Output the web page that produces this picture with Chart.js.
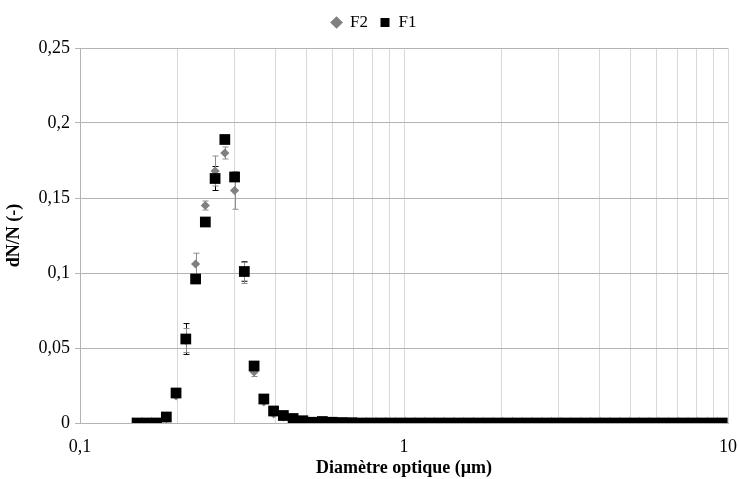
<!DOCTYPE html>
<html>
<head>
<meta charset="utf-8">
<script src="https://cdn.jsdelivr.net/npm/chart.js@4"></script>
<style>
  html, body { margin: 0; padding: 0; background: #fff; }
  #wrap { width: 739px; height: 479px; }
</style>
</head>
<body>
<div id="wrap"><canvas id="myChart"></canvas></div>
<script>
  // diameters (µm), one per channel
  const diam = [0.150, 0.1608, 0.1723, 0.1847, 0.1979, 0.2121, 0.2274, 0.2437, 0.2612, 0.2799,
    0.300, 0.3215, 0.3446, 0.3693, 0.3958, 0.4243, 0.4547, 0.4873, 0.5223, 0.5598,
    0.600, 0.643, 0.689, 0.739, 0.792, 0.849, 0.909, 0.975, 1.045, 1.120,
    1.200, 1.286, 1.378, 1.477, 1.583, 1.697, 1.819, 1.949, 2.089, 2.239,
    2.400, 2.572, 2.757, 2.955, 3.167, 3.394, 3.638, 3.899, 4.179, 4.479,
    4.800, 5.145, 5.514, 5.910, 6.334, 6.789, 7.276, 7.798, 8.358, 8.958, 9.600];

  const f1 = [0, 0, 0, 0.004, 0.020, 0.056, 0.096, 0.134, 0.163, 0.189,
    0.164, 0.101, 0.038, 0.016, 0.008, 0.005, 0.003, 0.0015, 0.0005, 0.001,
    0.0005, 0.0003, 0.0002, 0, 0, 0, 0, 0, 0, 0,
    0, 0, 0, 0, 0, 0, 0, 0, 0, 0,
    0, 0, 0, 0, 0, 0, 0, 0, 0, 0,
    0, 0, 0, 0, 0, 0, 0, 0, 0, 0, 0];
  const f1Err = [0, 0, 0, 0, 0, 0.0103, 0, 0, 0.008, 0.002,
    0, 0.0065, 0.002, 0, 0, 0, 0, 0, 0, 0,
    0, 0, 0, 0, 0, 0, 0, 0, 0, 0,
    0, 0, 0, 0, 0, 0, 0, 0, 0, 0,
    0, 0, 0, 0, 0, 0, 0, 0, 0, 0,
    0, 0, 0, 0, 0, 0, 0, 0, 0, 0, 0];

  const f2 = [0, 0, 0, 0.003, 0.018, 0.055, 0.106, 0.145, 0.168, 0.180,
    0.155, 0.100, 0.034, 0.014, 0.006, 0.004, 0.002, 0.001, 0.0005, 0.0005,
    0.0003, 0.0002, 0, 0, 0, 0, 0, 0, 0, 0,
    0, 0, 0, 0, 0, 0, 0, 0, 0, 0,
    0, 0, 0, 0, 0, 0, 0, 0, 0, 0,
    0, 0, 0, 0, 0, 0, 0, 0, 0, 0, 0];
  const f2Err = [0, 0, 0, 0, 0, 0.008, 0.0072, 0.003, 0.010, 0.004,
    0.0125, 0.007, 0.003, 0.001, 0, 0, 0, 0, 0, 0,
    0, 0, 0, 0, 0, 0, 0, 0, 0, 0,
    0, 0, 0, 0, 0, 0, 0, 0, 0, 0,
    0, 0, 0, 0, 0, 0, 0, 0, 0, 0,
    0, 0, 0, 0, 0, 0, 0, 0, 0, 0, 0];

  // log axis grid positions, labels only on decades
  const xTicks = [0.1, 0.2, 0.3, 0.4, 0.5, 0.6, 0.7, 0.8, 0.9, 1, 2, 3, 4, 5, 6, 7, 8, 9, 10];
  const xLabels = { 0.1: "0,1", 1: "1", 10: "10" };

  const serif = "'Liberation Serif', 'Times New Roman', serif";

  function pts(vals) {
    return diam.map((d, i) => ({ x: d, y: vals[i] }));
  }

  // vertical error bars with caps
  const errorBars = {
    id: "errorBars",
    beforeDatasetsDraw(chart) {
      const ctx = chart.ctx;
      const xs = chart.scales.x, ys = chart.scales.y;
      chart.data.datasets.forEach((ds, di) => {
        const errs = ds.errors;
        if (!errs) return;
        ctx.save();
        ctx.strokeStyle = ds.errorColor;
        ctx.lineWidth = 1;
        ds.data.forEach((p, i) => {
          const e = errs[i];
          if (!e) return;
          const px = Math.round(xs.getPixelForValue(p.x)) + 0.5;
          const top = ys.getPixelForValue(p.y + e);
          const bot = ys.getPixelForValue(p.y - e);
          ctx.beginPath();
          ctx.moveTo(px, top); ctx.lineTo(px, bot);
          ctx.moveTo(px - 3, top); ctx.lineTo(px + 3, top);
          ctx.moveTo(px - 3, bot); ctx.lineTo(px + 3, bot);
          ctx.stroke();
        });
        ctx.restore();
      });
    }
  };

  // nudge the legend a bit right/down, like the original
  const legendShift = {
    id: "legendShift",
    afterLayout(chart) {
      const lg = chart.legend;
      lg.left += 10; lg.right += 10;
      lg.top += 2; lg.bottom += 2;
    }
  };

  const config = {
    type: "scatter",
    data: {
      datasets: [
        {
          label: "F1",
          data: pts(f1),
          errors: f1Err,
          errorColor: "#000000",
          pointStyle: "rect",
          pointRadius: 7.6,
          backgroundColor: "#000000",
          borderColor: "#000000",
          borderWidth: 0,
        },
        {
          label: "F2",
          data: pts(f2),
          errors: f2Err,
          errorColor: "#8c8c8c",
          pointStyle: "rectRot",
          pointRadius: 4.6,
          backgroundColor: "#808080",
          borderColor: "#808080",
          borderWidth: 0,
        },
      ],
    },
    options: {
      responsive: true,
      maintainAspectRatio: false,
      animation: false,
      layout: { padding: { left: 0, right: 11, top: 0, bottom: 0 } },
      plugins: {
        tooltip: { enabled: false },
        legend: {
          position: "top",
          reverse: true,
          labels: {
            usePointStyle: true,
            boxWidth: 10,
            boxHeight: 9,
            padding: 12,
            color: "#000",
            font: { family: serif, size: 17 },
          },
        },
      },
      scales: {
        x: {
          type: "logarithmic",
          min: 0.1,
          max: 10,
          afterBuildTicks(scale) {
            scale.ticks = xTicks.map(v => ({ value: v }));
          },
          afterFit(scale) {
            scale.height = 56;
            scale.paddingLeft = 0;
            scale.paddingRight = 0;
          },
          border: { color: "#b3b3b3", width: 1 },
          grid: { color: "#d9d9d9", lineWidth: 1, drawTicks: false },
          ticks: {
            autoSkip: false,
            maxRotation: 0,
            padding: 13,
            color: "#000",
            font: { family: serif, size: 18 },
            callback: (v) => xLabels[v] || "",
          },
          title: {
            display: true,
            text: "Diamètre optique (µm)",
            color: "#000",
            font: { family: serif, size: 18, weight: "bold" },
            padding: { top: 0, bottom: 0 },
          },
        },
        y: {
          min: 0,
          max: 0.25,
          afterFit(scale) { scale.width = 80; },
          border: { color: "#b3b3b3", width: 1 },
          grid: { color: "#b3b3b3", lineWidth: 1, tickLength: 5 },
          ticks: {
            stepSize: 0.05,
            padding: 5,
            color: "#000",
            font: { family: serif, size: 18 },
            callback: (v) => String(Math.round(v * 100) / 100).replace(".", ","),
          },
          title: {
            display: true,
            text: "dN/N (-)",
            color: "#000",
            font: { family: serif, size: 18, weight: "bold" },
            padding: { top: 4, bottom: 0 },
          },
        },
      },
    },
    plugins: [errorBars, legendShift],
  };

  const myChart = new Chart(document.getElementById("myChart"), config);

  // pin legend box height so the plot top sits where the reference has it
  const legend = myChart.legend;
  const origFit = legend.fit.bind(legend);
  legend.fit = function () { origFit(); this.height = 48; };
  myChart.update();
</script>
</body>
</html>
